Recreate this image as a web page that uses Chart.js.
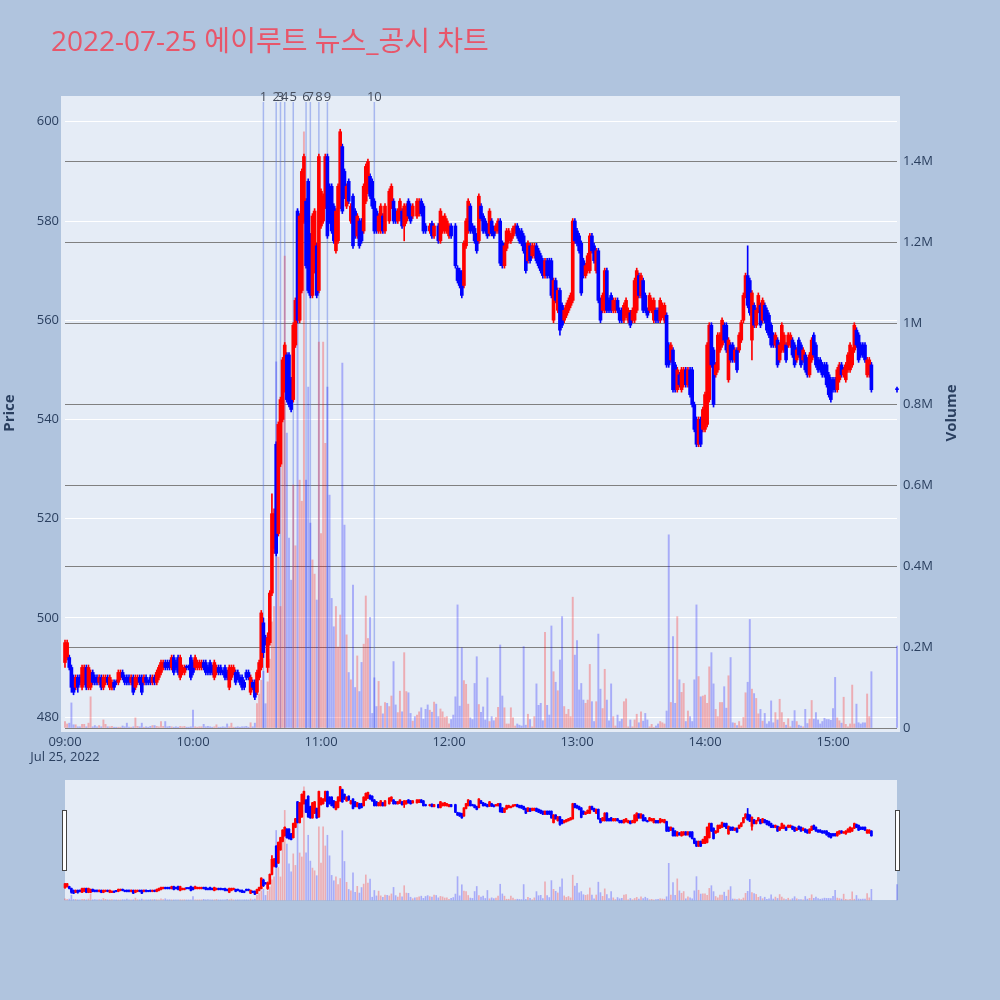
<!DOCTYPE html>
<html><head><meta charset="utf-8">
<script src="https://cdn.jsdelivr.net/npm/chart.js@4.4.1/dist/chart.umd.min.js"></script>
<style>
html,body{margin:0;padding:0;background:#b0c4de;}
#wrap{position:relative;width:1000px;height:1000px;overflow:hidden;}
#main{position:absolute;left:0;top:0;}
#slider{position:absolute;left:55px;top:775px;}
</style></head><body>
<div id="wrap"><canvas id="main" width="1000" height="1000"></canvas><canvas id="slider" width="850" height="130"></canvas></div>
<script>
const TITLE = '2022-07-25 에이루트 뉴스_공시 차트';
const sessionStart = '09:00';
// one entry per minute from 09:00 (index 0) to 15:30 (index 390); null = no trade
const open = [
491,492,492,490,488,486,488,488,486,487,
490,486,486,489,488,488,487,488,486,487,
488,486,486,487,487,487,488,489,488,488,
488,487,488,486,487,488,488,487,488,487,
488,487,488,487,488,489,490,491,491,491,
490,492,491,492,488,489,489,490,490,492,
491,490,490,490,490,491,491,490,491,490,
488,489,490,490,489,490,489,486,488,489,
489,489,488,488,487,489,489,485,487,487,
485,488,490,499,496,490,495,505,514,535,
517,531,540,546,553,553,548,544,555,582,
560,566,580,584,588,577,565,570,575,566,
579,580,583,593,587,587,583,574,576,583,
595,590,583,588,580,585,582,577,580,580,
578,584,586,589,588,584,582,578,578,581,
578,null,580,583,584,582,580,580.5,582,579,
580,584,583,581,null,581,581.5,584,583,579,
null,578,579.5,577,null,579,576,578,578,578,
577,579,null,579,570.5,570,569.5,567,575,578,
583,579,578.5,577,576,583,581,580,579,577.5,
580,578.5,578,578,580,575.5,571,574.5,576,576,
577,578,579,578,578,577,575,572,575,573,
573,575,574,573,572,569,572,572,572,560,
568,562,566,563,560,561,562,563,564,580,
578,577,575.5,572,569,570,570,577,575,570,
574,564,562,562,570,564,565,562,562,564,
562,562,560,561,560,561.5,560,560,562,569,
565,568,565,562,562,562,560,562,562,560,
561,560,561,555,552,554,551,546,549,546,
547,550,547,550,550,543,540,535,540,538,
538,539,544,559,554,549,550,554,555,559,
559,548,555,555,552,554,554,556,560,565,
569,568,556,563,559,562,563,560,563,562,
561,559,557,555,556,552,554,554,555,555,
555,556,555,552,556,555,552,553,552,549,
552,557,555,552,552,551,551,551,549,548,
548,548,546,548,551,549,548,550,550,551,
554,558,557,555,555,555,549,549,551,null,
null,null,null,null,null,null,null,null,null,null,
546];
const close = [
495,495,490,486,485,488,486,487,490,490,
486,490,489,487,487,487,488,486,488,488,
487,488,487,486,487,489,489,488,487,487,
487,488,485,488,488,487,485,488,487,487,
487,488,487,489,490,491,491,490,490,490,
492,489,490,489,492,490,490,490,490,488,
489,492,491,491,491,490,489,489,489,489,
491,490,489,489,489,488,488,490,490,490,
487,488,487,486,486,488,488,488,486,484,
489,491,501,493,495,496,505,521,521,513,
539,544,552,555,544,543,542,559,564,560,
581,590,593,571,566,565,581,582,565,593,
586,585,593,577,580,578,576,582,587,598,
582,585,587,584,583,575,577,581,575,576,
587,591,592,585,583,578,578,581,583,578,
583,null,586,587,580,580,582,584,579,583,
583,581,580,583,null,584,584,581.5,578,578,
null,579,577,579,null,576,582,580.5,581,580,
579,577,null,571,568,567,565,575.5,580,584,
578,578,576,574,585,580.5,578,578,577,582,
577.5,577,579,580,571.5,571,575,578,578,577,
578.5,579,577,576,575.5,574,570,575.5,572,575,
575,572,571,570,569,572,569,569,565,568,
564,566,558,559,562,563,564,565,580,576,
575.5,574,565.5,569,571,573,577,574,572,574,
564,560,565,570,562,562,562,564,564,562,
560,560,563,564,562,559,562,568,570,565,
569,562,562,561,565,564,564,560,560,564,
563,563,551,551,555,546,546,550,547,550,
550,547,550,545,543,538,535,540,535,542,
545,555,559,551,543,551,557,557,560,556,
554,556,552,552,554,550,557,559.5,565,569,
563,561.5,565.5,559,562,565,559,564,560,558,
557,555,555,557,551,555,559,557,552,557,
557,553,551,554,553,551,554,550,549,553,
556,553,551,550,550,549,549,547,545,544,
546,546,550,551,549,550,551,553,555,554,
559,555,552,553,553,552,552,552,546,null,
null,null,null,null,null,null,null,null,null,null,
546];
const high = [
495.5,495.5,492.5,490.5,488.5,488.5,488.5,488.5,490.5,490.5,
490.5,490.5,489.5,489.5,488.5,488.5,488.5,488.5,488.5,488.5,
488.5,488.5,487.5,487.5,487.5,489.5,489.5,489.5,488.5,488.5,
488.5,488.5,488.5,488.5,488.5,488.5,488.5,488.5,488.5,487.5,
488.5,488.5,488.5,489.5,490.5,491.5,491.5,491.5,491.5,491.5,
492.5,492.5,491.5,492.5,492.5,490.5,490.5,490.5,490.5,492.5,
491.5,492.5,491.5,491.5,491.5,491.5,491.5,490.5,491.5,490.5,
491.5,490.5,490.5,490.5,489.5,490.5,489.5,490.5,490.5,490.5,
489.5,489.5,488.5,488.5,487.5,489.5,489.5,488.5,487.5,487.5,
489.5,491.5,501.5,500,496.5,497,505.5,525,522,535.5,
539.5,544.5,552.5,555.5,553.5,553.5,548.5,559.5,564.5,582.5,
581.5,590.5,593.5,584.5,588.5,577.5,581.5,582.5,575.5,593.5,
586.5,585.5,593.5,593.5,587.5,587.5,583.5,582.5,587.5,598.5,
595.5,590.5,587.5,588.5,583.5,585.5,582.5,581.5,580.5,580.5,
587.5,591.5,592.5,589.5,588.5,584.5,582.5,581.5,583.5,581.5,
583.5,null,586.5,587.5,584.5,582.5,582.5,584.5,582.5,583.5,
583.5,584.5,583.5,583.5,null,584.5,584.5,584.5,583.5,579.5,
null,579.5,580,579.5,null,579.5,582.5,581,581.5,580.5,
579.5,579.5,null,579.5,571,570.5,570,576,580.5,584.5,
583.5,579.5,579,577.5,585.5,583.5,581.5,580.5,579.5,582.5,
580.5,579,579.5,580.5,580.5,576,575.5,578.5,578.5,577.5,
579,579.5,579.5,578.5,578.5,577.5,575.5,576,575.5,575.5,
575.5,575.5,574.5,573.5,572.5,572.5,572.5,572.5,572.5,568.5,
568.5,566.5,566.5,563.5,562.5,563.5,564.5,565.5,580.5,580.5,
578.5,577.5,576,572.5,571.5,573.5,577.5,577.5,575.5,574.5,
574.5,564.5,565.5,570.5,570.5,564.5,565.5,564.5,564.5,564.5,
562.5,562.5,563.5,564.5,562.5,562,562.5,568.5,570.5,569.5,
569.5,568.5,565.5,562.5,565.5,564.5,564.5,562.5,562.5,564.5,
563.5,563.5,561.5,555.5,555.5,554.5,551.5,550.5,549.5,550.5,
550.5,550.5,550.5,550.5,550.5,543.5,540.5,540.5,540.5,542.5,
545.5,555.5,559.5,559.5,554.5,551.5,557.5,557.5,560.5,559.5,
559.5,556.5,555.5,555.5,554.5,554.5,557.5,560,565.5,569.5,
575,568.5,566,563.5,562.5,565.5,563.5,564.5,563.5,562.5,
561.5,559.5,557.5,557.5,556.5,555.5,559.5,557.5,555.5,557.5,
557.5,556.5,555.5,554.5,556.5,555.5,554.5,553.5,552.5,553.5,
556.5,557.5,555.5,552.5,552.5,551.5,551.5,551.5,549.5,548.5,
548.5,548.5,550.5,551.5,551.5,550.5,551.5,553.5,555.5,554.5,
559.5,558.5,557.5,555.5,555.5,555.5,552.5,552.5,551.5,null,
null,null,null,null,null,null,null,null,null,null,
546.5];
const low = [
490,491.5,489.5,485,484.5,485.5,485,486.5,485.5,486.5,
485.5,485.5,485.5,486.5,486.5,486.5,486.5,485.5,485.5,486.5,
486.5,485.5,485.5,485.5,486.5,486.5,487.5,487.5,486.5,486.5,
486.5,486.5,484.5,485.5,486.5,486.5,484.5,486.5,486.5,486.5,
486.5,486.5,486.5,486.5,487.5,488.5,489.5,489.5,489.5,489.5,
489.5,488.5,489.5,488.5,487.5,488.5,488.5,489.5,489.5,487.5,
488.5,489.5,489.5,489.5,489.5,489.5,488.5,488.5,488.5,488.5,
487.5,488.5,488.5,488.5,488.5,487.5,487.5,485.5,487.5,488.5,
486.5,487.5,486.5,485.5,485.5,487.5,487.5,484.5,485.5,483.5,
484.5,487.5,489.5,492,494.5,489,494.5,504.5,513,512.5,
516.5,530.5,539.5,545.5,543.5,542.5,541.5,543.5,554.5,559.5,
559.5,565.5,579.5,570.5,565.5,564.5,564.5,569.5,564.5,565.5,
578.5,579.5,582.5,576.5,579.5,577.5,575.5,573.5,575.5,582.5,
581.5,584.5,582.5,583.5,579.5,574.5,576.5,576.5,574.5,575.5,
577.5,583.5,585.5,584.5,582.5,577.5,577.5,577.5,577.5,577.5,
577.5,null,579.5,582.5,579.5,579.5,579.5,580,578.5,576,
579.5,580.5,579.5,580.5,null,580.5,581,581,577.5,577.5,
null,577.5,576.5,576.5,null,575.5,575.5,577.5,577.5,577.5,
576.5,576.5,null,570.5,567.5,566.5,564.5,566.5,574.5,577.5,
577.5,577.5,575.5,573.5,575.5,580,577.5,577.5,576.5,577,
577,576.5,577.5,577.5,571,570.5,570.5,574,575.5,575.5,
576.5,577.5,576.5,575.5,575,573.5,569.5,571.5,571.5,572.5,
572.5,571.5,570.5,569.5,568.5,568.5,568.5,568.5,564.5,559.5,
563.5,561.5,557,558.5,559.5,560.5,561.5,562.5,563.5,575.5,
575,573.5,565,568.5,568.5,569.5,569.5,573.5,571.5,569.5,
563.5,559.5,561.5,561.5,561.5,561.5,561.5,561.5,561.5,561.5,
559.5,559.5,559.5,560.5,559.5,558.5,559.5,559.5,561.5,564.5,
564.5,561.5,561.5,560.5,561.5,561.5,559.5,559.5,559.5,559.5,
560.5,559.5,550.5,550.5,551.5,545.5,545.5,545.5,546.5,545.5,
546.5,546.5,546.5,544.5,542.5,537.5,534.5,534.5,534.5,537.5,
537.5,538.5,543.5,550.5,542.5,548.5,549.5,553.5,554.5,555.5,
553.5,547.5,551.5,551.5,551.5,549.5,553.5,555.5,559.5,564.5,
562.5,561,552,558.5,558.5,561.5,558.5,559.5,559.5,557.5,
556.5,554.5,554.5,554.5,550.5,551.5,553.5,553.5,551.5,554.5,
554.5,552.5,550.5,551.5,552.5,550.5,551.5,549.5,548.5,548.5,
551.5,552.5,550.5,549.5,549.5,548.5,548.5,546.5,544.5,543.5,
545.5,545.5,545.5,547.5,548.5,548.5,547.5,549.5,549.5,550.5,
553.5,554.5,551.5,552.5,552.5,551.5,548.5,548.5,545.5,null,
null,null,null,null,null,null,null,null,null,null,
545.5];
// traded volume per minute, in thousands of shares
const volumeThousands = [
16,10,12,62,8,8,3,3,9,9,
3,12,77,3,6,3,6,3,20,9,
3,3,4,2,2,2,2,5,3,12,
2,2,3,25,4,3,12,2,3,2,
4,6,6,4,3,16,4,16,3,4,
3,2,3,2,4,3,4,2,2,3,
44,3,2,3,3,9,3,4,3,2,
3,8,2,2,3,2,10,3,12,2,
2,3,2,3,3,4,2,13,3,12,
60,84,118,140,60,114,170,262,300,904,
422,300,770,1165,728,469,365,600,450,1279,
612,560,1472,612,842,506,415,380,316,953,
480,953,703,842,575,320,250,300,200,279,
901,501,230,137,119,353,100,178,90,162,
207,326,221,273,36,124,53,115,54,35,
63,61,53,79,164,57,38,91,40,186,
90,87,36,17,28,32,40,50,22,46,
57,44,39,64,59,28,47,40,26,28,
10,21,32,77,304,54,198,117,108,59,
25,21,110,176,58,39,52,20,124,16,
28,18,26,51,205,79,50,10,10,50,
25,5,10,7,5,201,7,34,21,3,
28,109,56,61,18,236,56,32,252,139,
113,92,168,275,53,34,46,28,323,180,
216,94,110,69,61,69,157,65,16,65,
232,96,48,145,69,18,109,28,5,32,
16,22,65,72,3,20,3,20,34,13,
40,17,36,20,3,9,1,5,10,16,
13,10,42,477,63,226,61,275,119,88,
110,16,42,28,16,119,304,127,77,79,
81,61,151,186,109,46,28,63,63,102,
49,129,174,13,12,6,16,5,26,87,
113,268,96,85,73,35,46,17,36,10,
16,67,13,38,20,71,38,14,7,23,
3,17,43,16,7,5,3,46,11,22,
68,22,38,20,10,16,24,21,21,19,
48,125,25,18,12,76,9,3,10,106,
10,59,13,10,13,13,84,28,139,null,
null,null,null,null,null,null,null,null,null,null,
202];
const newsTimes = ['10:33','10:39','10:41','10:43','10:47','10:53','10:55','10:59','11:03','11:25'];
const newsLabels = ['1','2','3','4','5','6','7','8','9','10'];
const hourTicks = ['09:00','10:00','11:00','12:00','13:00','14:00','15:00'];
const dateLabel = 'Jul 25, 2022';
const priceTicks = [480,500,520,540,560,580,600];
const volumeTicks = [0,200000,400000,600000,800000,1000000,1200000,1400000];
const volumeTickLabels = ['0','0.2M','0.4M','0.6M','0.8M','1M','1.2M','1.4M'];

const RED = '#ff0000', BLUE = '#0000ff';
const VRED = 'rgba(255,0,0,0.27)', VBLUE = 'rgba(0,0,255,0.27)';
const FONT = '"Open Sans", "Noto Sans CJK KR", sans-serif';
const TEXT = '#2a3f5f';

function toMin(t){const p=t.split(':').map(Number);const s=sessionStart.split(':').map(Number);return (p[0]-s[0])*60+(p[1]-s[1]);}

const idx = [];
for (let i=0;i<open.length;i++) if (open[i]!=null) idx.push(i);
const isUp = i => close[i] > open[i];
const bodyData = idx.map(i=>({x:i,y:[open[i],close[i]]}));
const wickData = idx.map(i=>({x:i,y:[low[i],high[i]]}));
const candleColors = idx.map(i=>isUp(i)?RED:BLUE);
const vIdx = [];
for (let i=0;i<volumeThousands.length;i++) if (volumeThousands[i]!=null) vIdx.push(i);
const volData = vIdx.map(i=>({x:i,y:volumeThousands[i]*1000}));
const volColors = vIdx.map(i=>(open[i]!=null && isUp(i))?VRED:VBLUE);

const PMIN=477.8, PMAX=605.2, VMAX=1560500, XMIN=0, XMAX=390;

function datasets(bodyW, wickW, volW){
  return [
    {data:bodyData, backgroundColor:candleColors, barThickness:bodyW, minBarLength:1, yAxisID:'y', order:1, clip:5, grouped:false},
    {data:wickData, backgroundColor:candleColors, barThickness:wickW, yAxisID:'y', order:2, clip:5, grouped:false},
    {data:volData, backgroundColor:volColors, barThickness:volW, yAxisID:'y2', order:3, clip:5, grouped:false}
  ];
}

const mainPlugin = {
  id:'mainDeco',
  beforeDraw(chart){
    const c=chart.ctx;
    c.save();
    c.fillStyle='#b0c4de'; c.fillRect(0,0,chart.width,chart.height);
    c.fillStyle='#e5ecf6'; c.fillRect(61,96,839,636);
    c.fillStyle='#e8566a'; c.font='28px '+FONT; c.textBaseline='alphabetic'; c.textAlign='left';
    c.fillText(TITLE,51,51);
    c.restore();
  },
  beforeDatasetsDraw(chart){
    const c=chart.ctx, xs=chart.scales.x;
    c.save();
    c.strokeStyle='rgba(90,120,230,0.45)'; c.lineWidth=1.5;
    newsTimes.forEach(t=>{const px=xs.getPixelForValue(toMin(t)); c.beginPath(); c.moveTo(px,102); c.lineTo(px,chart.chartArea.bottom); c.stroke();});
    c.restore();
  },
  afterDraw(chart){
    const c=chart.ctx, xs=chart.scales.x;
    c.save();
    c.fillStyle='#444c5c'; c.font='13px '+FONT; c.textAlign='center'; c.textBaseline='middle';
    newsTimes.forEach((t,k)=>{const px=xs.getPixelForValue(toMin(t)); c.fillText(newsLabels[k],px,97);});
    c.fillStyle=TEXT; c.font='13px '+FONT;
    hourTicks.forEach(t=>{const px=xs.getPixelForValue(toMin(t)); c.fillText(t,px,742);});
    c.fillText(dateLabel, xs.getPixelForValue(toMin(hourTicks[0])), 757);
    c.font='bold 15px '+FONT;
    c.translate(10,413); c.rotate(-Math.PI/2); c.fillText('Price',0,0);
    c.setTransform(1,0,0,1,0,0);
    c.translate(952,413); c.rotate(-Math.PI/2); c.fillText('Volume',0,0);
    c.restore();
  }
};

new Chart(document.getElementById('main'), {
  type:'bar',
  data:{datasets:datasets(3,1,1.3)},
  options:{
    responsive:false, devicePixelRatio:1, animation:false,
    layout:{padding:{top:96,bottom:272,left:0,right:0}},
    plugins:{legend:{display:false}, tooltip:{enabled:false}},
    scales:{
      x:{type:'linear', min:XMIN, max:XMAX, offset:false, grid:{display:false}, border:{display:false}, ticks:{display:false}, afterFit(s){s.height=0;}},
      y:{type:'linear', position:'left', min:PMIN, max:PMAX,
         afterBuildTicks(s){s.ticks=priceTicks.map(v=>({value:v}));},
         grid:{color:'#ffffff', lineWidth:1, drawTicks:false}, border:{display:false},
         ticks:{padding:6, color:TEXT, autoSkip:false, font:{family:FONT,size:13}},
         afterFit(s){s.width=65;}},
      y2:{type:'linear', position:'right', min:0, max:VMAX,
         afterBuildTicks(s){s.ticks=volumeTicks.map(v=>({value:v}));},
         grid:{color:'#808080', lineWidth:1, drawTicks:false}, border:{display:false},
         ticks:{padding:6, color:TEXT, autoSkip:false, font:{family:FONT,size:13}, callback:(v,i)=>volumeTickLabels[i]},
         afterFit(s){s.width=103;}}
    }
  },
  plugins:[mainPlugin]
});

const sliderPlugin = {
  id:'sliderDeco',
  beforeDraw(chart){
    const c=chart.ctx, a=chart.chartArea;
    c.save(); c.fillStyle='#e5ecf6'; c.fillRect(a.left,a.top,a.right-a.left,a.bottom-a.top); c.restore();
  },
  afterDraw(chart){
    const c=chart.ctx;
    c.save(); c.fillStyle='#ffffff'; c.strokeStyle='#444444'; c.lineWidth=1;
    c.fillRect(7.5,35.5,4,60); c.strokeRect(7.5,35.5,4,60);
    c.fillRect(840.5,35.5,4,60); c.strokeRect(840.5,35.5,4,60);
    c.restore();
  }
};

new Chart(document.getElementById('slider'), {
  type:'bar',
  data:{datasets:datasets(2,1,1)},
  options:{
    responsive:false, devicePixelRatio:1, animation:false,
    layout:{padding:{top:5,bottom:5,left:10,right:8}},
    plugins:{legend:{display:false}, tooltip:{enabled:false}},
    scales:{
      x:{type:'linear', display:false, min:XMIN, max:XMAX, offset:false},
      y:{type:'linear', display:false, min:PMIN, max:PMAX},
      y2:{type:'linear', display:false, min:0, max:VMAX, position:'right'}
    }
  },
  plugins:[sliderPlugin]
});
</script>
</body></html>
